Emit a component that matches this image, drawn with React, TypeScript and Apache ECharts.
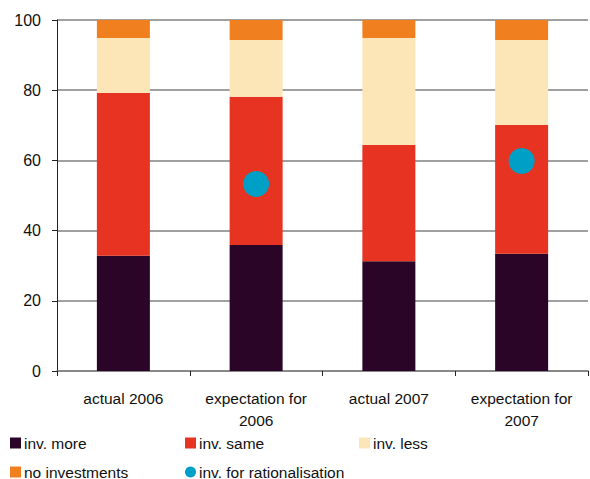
import React, { useEffect, useRef } from "react";
import * as echarts from "echarts";

const categories = ["actual 2006", "expectation for\n2006", "actual 2007", "expectation for\n2007"];
const invMore = [32.8, 35.9, 31.3, 33.4];
const invSame = [46.4, 42.2, 33.1, 36.7];
const invLess = [15.7, 16.2, 30.5, 24.2];
const noInvest = [5.1, 5.7, 5.1, 5.7];
const rationalisation: (number | null)[] = [null, 53.3, null, 59.8];
const yTicks = [0, 20, 40, 60, 80, 100];

const FONT = "Liberation Sans, Arial, sans-serif";
const colors = {
  more: "#2a0527",
  same: "#e63322",
  less: "#fce6b8",
  none: "#ef7f1f",
  rat: "#00a0c6",
};

export default function App() {
  const ref = useRef<HTMLDivElement>(null);
  useEffect(() => {
    if (!ref.current) return;
    const chart = echarts.init(ref.current, undefined, { renderer: "svg" });
    const legendBase = {
      itemWidth: 11,
      itemHeight: 11,
      itemGap: 3,
      textStyle: { fontFamily: FONT, fontSize: 15.5, color: "#111", padding: [0, 0, 0, -2] },
      selectedMode: false,
      padding: 0,
    };
    const bar = (name: string, data: number[], color: string) => ({
      name,
      type: "bar",
      stack: "total",
      data,
      barWidth: 53,
      itemStyle: { color },
    });
    chart.setOption({
      animation: false,
      textStyle: { fontFamily: FONT },
      grid: { left: 57, right: 2, top: 20, bottom: 108, containLabel: false },
      legend: [
        { ...legendBase, data: [{ name: "inv. more", icon: "rect" }], left: 10, top: 435 },
        { ...legendBase, data: [{ name: "inv. same", icon: "rect" }], left: 185, top: 435 },
        { ...legendBase, data: [{ name: "inv. less", icon: "rect" }], left: 359, top: 435 },
        { ...legendBase, data: [{ name: "no investments", icon: "rect" }], left: 10, top: 464 },
        { ...legendBase, data: [{ name: "inv. for rationalisation", icon: "circle" }], left: 185, top: 464 },
      ],
      xAxis: {
        type: "category",
        data: categories,
        axisLine: { lineStyle: { color: "#808080", width: 1.5 } },
        axisTick: { show: true, length: 5, lineStyle: { color: "#222" } },
        axisLabel: { fontFamily: FONT, fontSize: 15.5, color: "#111", margin: 16, lineHeight: 22, interval: 0 },
      },
      yAxis: {
        type: "value",
        min: 0,
        max: 100,
        interval: 20,
        axisLine: { show: true, lineStyle: { color: "#222", width: 1 } },
        axisTick: { show: true, length: 5, lineStyle: { color: "#222" } },
        axisLabel: {
          fontFamily: FONT,
          fontSize: 16,
          color: "#111",
          margin: 16,
          formatter: (v: number) => (yTicks.includes(v) ? String(v) : ""),
        },
        splitLine: { show: true, lineStyle: { color: "#808080", width: 1.5 } },
      },
      series: [
        bar("inv. more", invMore, colors.more),
        bar("inv. same", invSame, colors.same),
        bar("inv. less", invLess, colors.less),
        bar("no investments", noInvest, colors.none),
        {
          name: "inv. for rationalisation",
          type: "scatter",
          data: rationalisation,
          symbol: "circle",
          symbolSize: 26,
          itemStyle: { color: colors.rat, opacity: 1 },
          z: 5,
        },
      ],
    });
    return () => chart.dispose();
  }, []);
  return (
    <div
      ref={ref}
      style={{ position: "fixed", left: 0, top: 0, width: 590, height: 479, background: "#fff" }}
    />
  );
}
